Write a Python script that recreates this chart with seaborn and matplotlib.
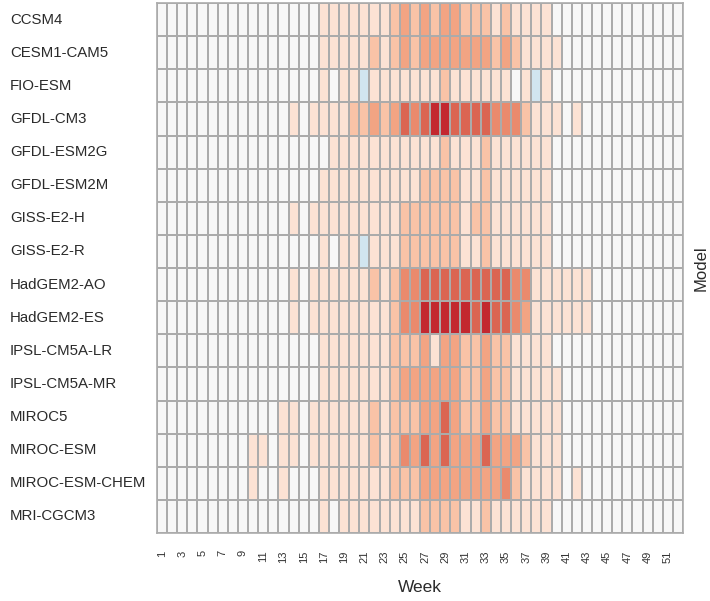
import numpy as np
import pandas as pd
import seaborn as sns
import matplotlib.pyplot as plt
from matplotlib.colors import ListedColormap

# Data: anomaly class per model and week ('b' = slightly negative, 0 = none, 1..6 = increasing)

weeks = list(range(1, 53))
models = [
    "CCSM4", "CESM1-CAM5", "FIO-ESM", "GFDL-CM3", "GFDL-ESM2G", "GFDL-ESM2M",
    "GISS-E2-H", "GISS-E2-R", "HadGEM2-AO", "HadGEM2-ES", "IPSL-CM5A-LR",
    "IPSL-CM5A-MR", "MIROC5", "MIROC-ESM", "MIROC-ESM-CHEM", "MRI-CGCM3",
]
levels = [
    "0000000000000000" "1111111" "2323" "233222121111" "0000000000000",
    "0000000000000000" "11111" "212323" "3333332321111" "000000000000",
    "0000000000000000" "1011b" "1111111" "2" "111111" "0" "1b1" "0000000000000",
    "0000000000000" "10" "1111" "22323545" "665555444211101" "0000000000",
    "00000000000000000" "11111111111" "2" "111" "2" "111111" "0000000000000",
    "0000000000000000" "1111111111" "2222" "11" "2" "111111" "0000000000000",
    "0000000000000" "1" "0" "111111111" "222222" "1" "22" "111111" "0000000000000",
    "0000000000000000" "1" "0" "11" "b" "111" "222222" "11" "2" "111111" "0000000000000",
    "0000000000000" "10" "111111" "212445" "55555555" "44" "111111" "000000000",
    "0000000000000" "10" "11111111" "2446" "6666" "565543" "111111" "000000000",
    "0000000000000000" "1111111" "2223" "13322322" "1111" "0000000000000",
    "0000000000000000" "1111111" "2" "333333" "22322" "11111" "000000000000",
    "000000000000" "110" "111111" "212223" "35322322" "11111" "000000000000",
    "000000000" "11011" "0" "111111" "212435" "353335333" "2" "111" "000000000000",
    "000000000" "1001000" "1111111" "222" "33333333" "42" "1111" "01" "0000000000",
    "0000000000000000" "10" "11111111" "2222" "11" "2" "111111" "0000000000000",
]
assert all(len(r) == len(weeks) for r in levels), [len(r) for r in levels]

grid = np.array([[-1 if ch == "b" else int(ch) for ch in row] for row in levels])
data = pd.DataFrame(grid, index=models, columns=weeks)

palette = ["#D1E5F0", "#F7F7F7", "#FCE2D4", "#F9C3A7", "#F2A483",
           "#EA8A6D", "#DB6552", "#C3282F"]
cmap = ListedColormap(palette)

plt.rcParams["font.family"] = ["Liberation Sans", "DejaVu Sans"]

fig = plt.figure(figsize=(7.1, 6.01), dpi=100)
ax = fig.add_axes([157 / 710, 1 - 533 / 601, 526 / 710, 530 / 601])

sns.heatmap(data, ax=ax, cmap=cmap, vmin=-1.5, vmax=6.5, cbar=False,
            linewidths=1.1, linecolor="#ababab")

for s in ax.spines.values():
    s.set_visible(True)
    s.set_color("#ababab")
    s.set_linewidth(1.2)

ax.set_xticks(np.arange(0, 52, 2) + 0.5)
ax.set_xticklabels([str(w) for w in weeks[::2]], rotation=90)
ax.tick_params(axis="x", length=0, pad=12.5, labelsize=8, labelcolor="#333333")

ax.set_yticks(np.arange(len(models)) + 0.5)
ax.set_yticklabels(models, rotation=0, ha="left")
ax.tick_params(axis="y", length=0, pad=106, labelsize=10.8, labelcolor="#2b2b2b")

ax.set_xlabel("Week", fontsize=12.5, color="#2b2b2b", labelpad=12)
ax.yaxis.set_label_position("right")
ax.set_ylabel("Model", fontsize=12, color="#2b2b2b", rotation=90, labelpad=8)

plt.savefig("out.png", dpi=100)
